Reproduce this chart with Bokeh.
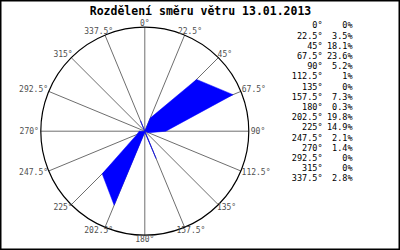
import math
from bokeh.plotting import figure
from bokeh.models import Range1d, Label, ColumnDataSource
from bokeh.core.properties import value
from bokeh.embed import file_html
from bokeh.resources import INLINE

title_text = "Rozdělení směru větru 13.01.2013"
directions = [0, 22.5, 45, 67.5, 90, 112.5, 135, 157.5, 180, 202.5, 225, 247.5, 270, 292.5, 315, 337.5]
dir_labels = ["0°", "22.5°", "45°", "67.5°", "90°", "112.5°", "135°", "157.5°",
              "180°", "202.5°", "225°", "247.5°", "270°", "292.5°", "315°", "337.5°"]
percents = [0, 3.5, 18.1, 23.6, 5.2, 1, 0, 7.3, 0.3, 19.8, 14.9, 2.1, 1.4, 0, 0, 2.8]
pct_labels = ["0%", "3.5%", "18.1%", "23.6%", "5.2%", "1%", "0%", "7.3%",
              "0.3%", "19.8%", "14.9%", "2.1%", "1.4%", "0%", "0%", "2.8%"]
scale_max = 25.7  # percent at the outer circle

W, H = 400, 250
cx_px, cy_px = 144.3, 130.7
R_px = 104.0
k = R_px / scale_max  # px per percent

p = figure(width=W, height=H, output_backend="svg", toolbar_location=None,
           x_range=Range1d(-cx_px / k, (W - cx_px) / k),
           y_range=Range1d(-(H - cy_px) / k, cy_px / k),
           x_axis_type=None, y_axis_type=None, min_border=0,
           background_fill_color="white", border_fill_color="white")
p.grid.visible = False
p.outline_line_color = "black"
p.outline_line_width = 2

th = [math.radians(d) for d in directions]
# spokes
p.segment(x0=[0] * len(th), y0=[0] * len(th),
          x1=[scale_max * math.sin(t) for t in th],
          y1=[scale_max * math.cos(t) for t in th],
          line_color="#6e6e6e", line_width=1)
# outer circle
p.circle(x=[0], y=[0], radius=scale_max, fill_color=None, line_color="black", line_width=1.2)

# data polygon
px = [v * math.sin(t) for v, t in zip(percents, th)]
py = [v * math.cos(t) for v, t in zip(percents, th)]
p.patch(px, py, fill_color="#0000ff", line_color="#0000ff", line_width=0.5)

# direction labels around the circle
char_w = 4.8
half_h = 3.0
gap = 1.0
lx, ly = [], []
for lab, t in zip(dir_labels, th):
    hw = len(lab) * char_w / 2
    s, c = math.sin(t), math.cos(t)
    lx.append(((R_px + gap) * s + (hw + 1) * s) / k)
    ly.append(((R_px + gap) * c + half_h * c) / k)
src = ColumnDataSource(dict(x=lx, y=ly, t=dir_labels))
p.text(x="x", y="y", text="t", source=src, text_align="center", text_baseline="middle",
       text_font=value("DejaVu Sans Mono"), text_font_size="8px", text_color="#505050")

# title
p.add_layout(Label(x=200, y=H - 10, x_units="screen", y_units="screen", text=title_text,
                   text_align="center", text_baseline="alphabetic",
                   text_font="DejaVu Sans Mono", text_font_style="bold",
                   text_font_size="11.5px", text_color="black"))

# legend table on the right
row0, step = 24.9, 10.2
for i, (dl, pl) in enumerate(zip(dir_labels, pct_labels)):
    yy = H - (row0 + i * step)
    p.add_layout(Label(x=322, y=yy, x_units="screen", y_units="screen", text=dl,
                       text_align="right", text_baseline="middle",
                       text_font="DejaVu Sans Mono", text_font_size="8.5px", text_color="black"))
    p.add_layout(Label(x=352, y=yy, x_units="screen", y_units="screen", text=pl,
                       text_align="right", text_baseline="middle",
                       text_font="DejaVu Sans Mono", text_font_size="8.5px", text_color="black"))

open("out.html", "w").write(file_html(p, INLINE))
